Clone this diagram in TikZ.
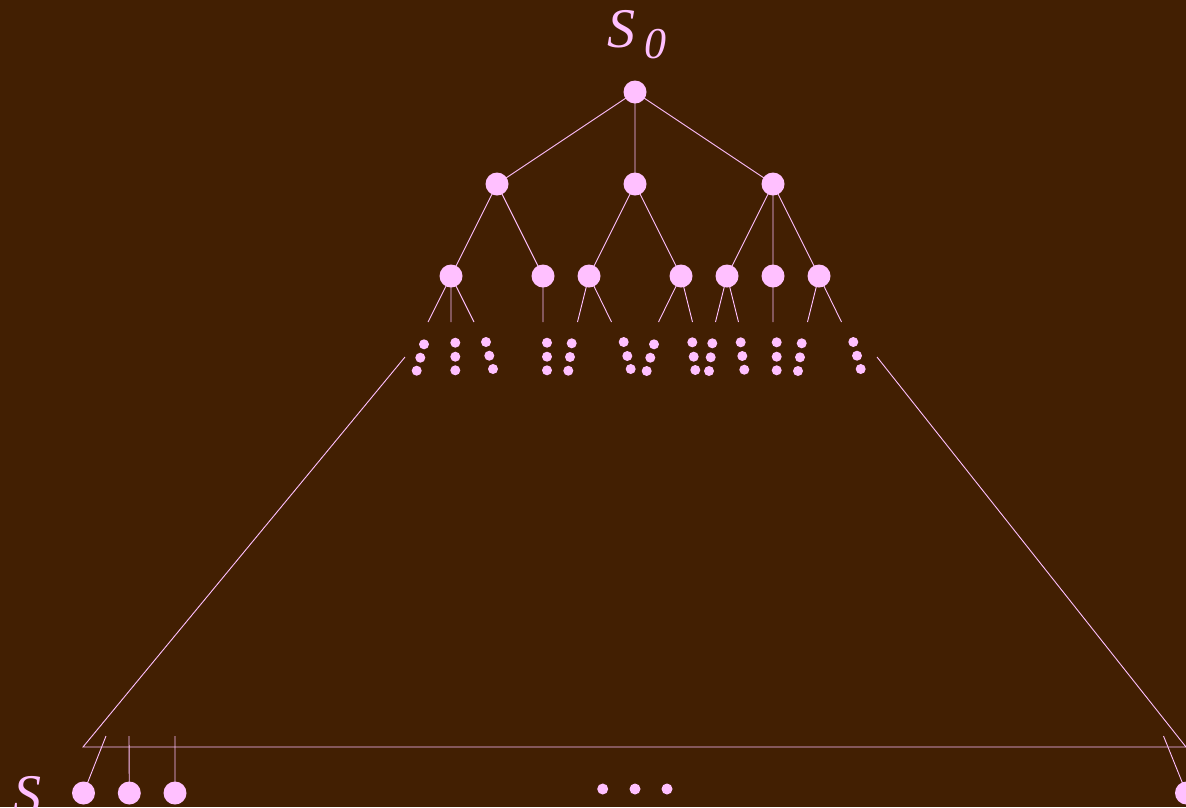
\documentclass[tikz,border=0pt]{standalone}
\usepackage{fontspec}
\newfontfamily\tfont{Liberation Serif}
\definecolor{bg}{RGB}{66,31,2}
\definecolor{pk}{RGB}{255,192,255}
\tikzset{
  big/.style={circle,fill=pk,draw=none,inner sep=0pt,minimum size=23pt},
  dot/.style={circle,fill=pk,draw=none,inner sep=0pt,minimum size=10pt},
  bdot/.style={circle,fill=pk,draw=none,inner sep=0pt,minimum size=11pt},
  ln/.style={draw=pk,line width=0.9pt},
  lbl/.style={text=pk,inner sep=0pt,font=\tfont\itshape}
}
\begin{document}
\begin{tikzpicture}[x=1pt,y=-1pt]
\fill[bg] (0,0) rectangle (1186,807);
\useasboundingbox (0,0) rectangle (1186,807);
\begin{scope}
\clip (0,0) rectangle (1186,807);
% label
\node[lbl,anchor=base west] (s0) at (607,47) {\fontsize{56}{56}\selectfont S\kern9pt\raisebox{-11pt}{\fontsize{44}{44}\selectfont 0}};
\node[lbl,anchor=base west] (s) at (13,813) {\fontsize{56}{56}\selectfont S};
% coordinates
\coordinate (r) at (635,92);
\coordinate (a) at (497,184);
\coordinate (b) at (635,184);
\coordinate (c) at (773,184);
\coordinate (a1) at (451,276);
\coordinate (a2) at (543,276);
\coordinate (b1) at (589,276);
\coordinate (b2) at (681,276);
\coordinate (c1) at (727,276);
\coordinate (c2) at (773,276);
\coordinate (c3) at (819,276);
% edges
\draw[ln] (r) -- (a) (r) -- (b) (r) -- (c);
\draw[ln] (a) -- (a1) (a) -- (a2) (b) -- (b1) (b) -- (b2) (c) -- (c1) (c) -- (c2) (c) -- (c3);
% stubs
\coordinate (t1) at (428,322); \coordinate (t2) at (451,322); \coordinate (t3) at (474,322);
\coordinate (t4) at (543,322);
\coordinate (t5) at (577.5,322); \coordinate (t6) at (611.5,322);
\coordinate (t7) at (658.5,322); \coordinate (t8) at (692.5,322);
\coordinate (t9) at (715.5,322); \coordinate (t10) at (738.5,322);
\coordinate (t11) at (773,322);
\coordinate (t12) at (807.5,322); \coordinate (t13) at (841.5,322);
\draw[ln] (a1) -- (t1) (a1) -- (t2) (a1) -- (t3) (a2) -- (t4)
  (b1) -- (t5) (b1) -- (t6) (b2) -- (t7) (b2) -- (t8)
  (c1) -- (t9) (c1) -- (t10) (c2) -- (t11) (c3) -- (t12) (c3) -- (t13);
% nodes
\foreach \n in {r,a,b,c,a1,a2,b1,b2,c1,c2,c3} \node[big] (n\n) at (\n) {};
% small dots
\foreach \x/\y [count=\i] in {424/344.3,420.3/357.7,416.7/370.7,
  455.3/342.7,455.3/356.7,455.3/370.3,
  486/342,489.3/355.7,493/369,
  547/342.7,547/356.7,547/370.3,
  571.7/343.3,570/357,568.3/370.7,
  623.7/342,627.3/356,630.7/369,
  654/344.3,650.3/357.7,646.7/371,
  692.3/342.3,693.7/356.7,695.3/370,
  712.3/343.3,710.7/357.3,709/371,
  740.7/342.3,742.3/356,744.3/369.7,
  776.7/342.3,776.7/356.7,776.7/370.3,
  801.7/343.3,800/357.3,798/371,
  853.3/342,857/355.7,860.7/369}
  \node[dot] (d\i) at (\x,\y) {};
% triangle
\coordinate (tl) at (405,357);
\coordinate (tr) at (877,357);
\coordinate (bl) at (83,747);
\coordinate (br) at (1186,747);
\coordinate (brx) at (1200,747);
\draw[ln] (tl) -- (bl) -- (brx);
\draw[ln] (tr) -- (br);
% bottom stubs
\coordinate (u1) at (106,736);
\coordinate (u2) at (129,736);
\coordinate (u3) at (175,736);
\coordinate (u4) at (1163.5,736);
\coordinate (x1) at (83.5,793);
\coordinate (x2) at (129.3,793);
\coordinate (x3) at (175,793);
\coordinate (x4) at (1186.5,793);
\draw[ln] (u1) -- (x1) (u2) -- (x2) (u3) -- (x3) (u4) -- (x4);
\foreach \i in {1,2,3,4} \node[big] (y\i) at (x\i) {};
\node[bdot] (e1) at (602.7,789) {};
\node[bdot] (e2) at (635,789) {};
\node[bdot] (e3) at (667,789) {};
\end{scope}
\end{tikzpicture}
\end{document}
